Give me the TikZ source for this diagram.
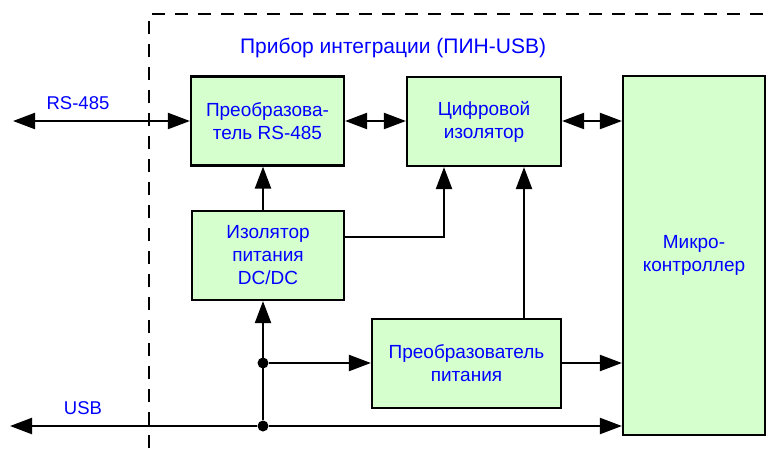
\documentclass[tikz,border=0pt]{standalone}
\usepackage{fontspec}
\setmainfont{Liberation Sans}
\usetikzlibrary{arrows.meta,calc}
\definecolor{boxfill}{RGB}{214,255,206}
\definecolor{txtblue}{RGB}{0,0,255}
\tikzset{
  blk/.style={draw=black, line width=2.2pt, fill=boxfill, align=center, text=txtblue,
    font=\fontsize{19}{23}\selectfont, inner sep=0pt},
  conn/.style={line width=2.2pt, draw=black},
  tip/.style={-{Triangle[length=22pt,width=16pt]}},
  dtip/.style={{Triangle[length=22pt,width=16pt]}-{Triangle[length=22pt,width=16pt]}},
  jdot/.style={circle, fill=black, inner sep=0pt, minimum size=11pt},
  lbl/.style={text=txtblue, font=\fontsize{18.5}{22}\selectfont, inner sep=0pt},
}
\begin{document}
\begin{tikzpicture}[x=1pt,y=-1pt]
\useasboundingbox (0,0) rectangle (768,448);
% dashed frame
\draw[line width=2.2pt, dash pattern=on 13pt off 10pt] (149,448) -- (149,14) -- (768,14);
\node[text=txtblue, font=\fontsize{21}{25}\selectfont, inner sep=0pt] (title) at (393,48) {Прибор интеграции (ПИН-USB)};
% blocks
\node[blk, minimum width=153pt, minimum height=89pt] (conv) at (267.5,121) {Преобразова-\\тель RS-485};
\node[blk, minimum width=154pt, minimum height=89pt] (iso) at (484,121.5) {Цифровой\\изолятор};
\node[blk, minimum width=142pt, minimum height=359pt] (mcu) at (694,255.5) {Микро-\\контроллер};
\node[blk, minimum width=152pt, minimum height=89pt] (dcdc) at (268,255.5) {Изолятор\\питания\\DC/DC};
\node[blk, minimum width=189pt, minimum height=89pt] (pwr) at (466.5,363.5) {Преобразователь\\питания};
% coordinates
\coordinate (rsend) at (13,121);
\coordinate (usbend) at (10,426);
\node[jdot] (j1) at (263,363) {};
\node[jdot] (j2) at (263,426) {};
\coordinate (bend) at (444,237);
% labels
\node[lbl] (rslbl) at (78,103) {RS-485};
\node[lbl] (usblbl) at (83,408) {USB};
% connectors
\draw[conn,dtip] (rsend) -- (conv.west |- rsend);
\draw[conn,dtip] (conv.east |- rsend) -- (iso.west |- rsend);
\draw[conn,dtip] (iso.east |- rsend) -- (mcu.west |- rsend);
\draw[conn,tip] (dcdc.north -| j1) -- (conv.south -| j1);
\draw[conn,tip] (dcdc.east |- bend) -- (bend) -- (iso.south -| bend);
\draw[conn,tip] (pwr.north -| 524,0) -- (iso.south -| 524,0);
\draw[conn,tip] (j2) -- (dcdc.south -| j2);
\draw[conn,tip] (j1) -- (pwr.west |- j1);
\draw[conn,tip] (pwr.east |- j1) -- (mcu.west |- j1);
\draw[conn,tip] (j2) -- (mcu.west |- j2);
\draw[conn,tip] (j2) -- (usbend);
\end{tikzpicture}
\end{document}
